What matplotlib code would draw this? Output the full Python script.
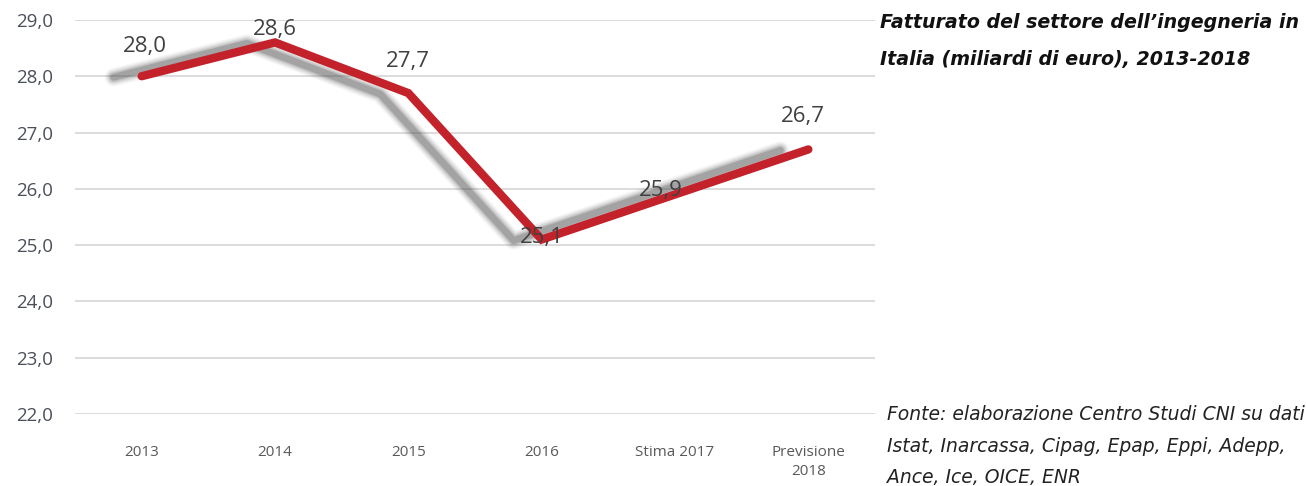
import matplotlib.pyplot as plt
import matplotlib.transforms as mtrans

# dati
anni = ["2013", "2014", "2015", "2016", "Stima 2017", "Previsione\n2018"]
fatturato = [28.0, 28.6, 27.7, 25.1, 25.9, 26.7]
etichette = ["28,0", "28,6", "27,7", "25,1", "25,9", "26,7"]
yticks = [22.0, 23.0, 24.0, 25.0, 26.0, 27.0, 28.0, 29.0]

# spostamento delle etichette (punti), solo stile
off_lab = [(2, 14), (0, 2), (0, 15), (0, -6), (-10, -5), (-4, 16)]

fig = plt.figure(figsize=(13.06, 4.86), dpi=100)
ax = fig.add_axes([0.0574, 0.148, 0.6126, 0.811])

x = list(range(len(anni)))

for v in yticks:
    ax.axhline(v, color="#dcdcdc", lw=1.4, zorder=0)

# ombra sfumata
sposta = ax.transData + mtrans.ScaledTranslation(-28/100, -1/100, fig.dpi_scale_trans)
for w, a in [(13, 0.05), (11, 0.07), (9, 0.1), (7, 0.15), (5, 0.25)]:
    ax.plot(x, fatturato, color="#4a4a4a", lw=w, alpha=a, solid_capstyle="round",
            transform=sposta, zorder=1)

ax.plot(x, fatturato, color="#c3222b", lw=6, solid_capstyle="round",
        solid_joinstyle="miter", zorder=3)

for i in range(len(anni)):
    ax.annotate(etichette[i], (x[i], fatturato[i]), xytext=off_lab[i],
                textcoords="offset points", ha="center", va="bottom",
                fontsize=16, color="#404040", family="Open Sans", zorder=4)

ax.set_xlim(-0.5, 5.5)
ax.set_ylim(22, 29)
ax.set_yticks(yticks)
ax.set_yticklabels([("%.1f" % v).replace(".", ",") for v in yticks],
                   fontsize=13.5, color="#4a4f5a", family="Open Sans")
ax.set_xticks(x)
ax.set_xticklabels(anni, fontsize=11, color="#595959", family="Open Sans",
                   va="top", linespacing=1.4)
ax.tick_params(length=0, pad=22, axis="x")
ax.tick_params(length=0, pad=16, axis="y")
for s in ax.spines.values():
    s.set_visible(False)

fig.text(0.674, 0.974, "Fatturato del settore dell\u2019ingegneria in\nItalia (miliardi di euro), 2013-2018",
         fontsize=13.7, fontweight="bold", style="italic", family="DejaVu Sans",
         va="top", ha="left", linespacing=2.2, color="#111111")

fig.text(0.679, 0.166, "Fonte: elaborazione Centro Studi CNI su dati\nIstat, Inarcassa, Cipag, Epap, Eppi, Adepp,\nAnce, Ice, OICE, ENR",
         fontsize=13.5, style="italic", family="DejaVu Sans", va="top", ha="left",
         linespacing=1.82, color="#222222")

fig.savefig("out.png", dpi=100)
